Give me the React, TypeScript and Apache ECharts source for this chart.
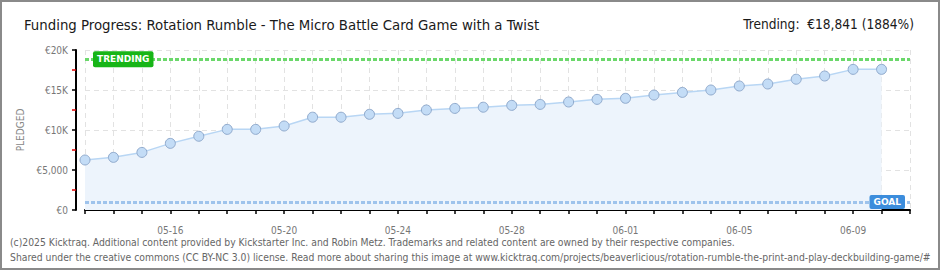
import React, { useEffect, useRef } from "react";
import * as echarts from "echarts";

const titleText = "Funding Progress: Rotation Rumble - The Micro Battle Card Game with a Twist";
const trendingText = "Trending:  €18,841 (1884%)";
const footerLines = [
  "(c)2025 Kicktraq. Additional content provided by Kickstarter Inc. and Robin Metz. Trademarks and related content are owned by their respective companies.",
  "Shared under the creative commons (CC BY-NC 3.0) license. Read more about sharing this image at www.kicktraq.com/projects/beaverlicious/rotation-rumble-the-print-and-play-deckbuilding-game/#",
];
const dates = [
  "05-13", "05-14", "05-15", "05-16", "05-17", "05-18", "05-19", "05-20", "05-21", "05-22",
  "05-23", "05-24", "05-25", "05-26", "05-27", "05-28", "05-29", "05-30", "05-31", "06-01",
  "06-02", "06-03", "06-04", "06-05", "06-06", "06-07", "06-08", "06-09", "06-10", "06-11",
];
const pledged = [
  6250, 6580, 7200, 8330, 9220, 10080, 10080, 10500, 11600, 11600,
  11960, 12080, 12500, 12700, 12850, 13080, 13200, 13500, 13830, 13960,
  14370, 14700, 15000, 15500, 15750, 16350, 16750, 17580, 17580,
];
const trendingValue = 18841;
const goalValue = 1000;
const yTicks = [0, 5000, 10000, 15000, 20000];

const FONT = "'Liberation Sans Narrow', 'DejaVu Sans Condensed', sans-serif";

export default function App() {
  const ref = useRef<HTMLDivElement>(null);
  useEffect(() => {
    if (!ref.current) return;
    const chart = echarts.init(ref.current, null, { renderer: "svg" });
    chart.setOption({
      animation: false,
      backgroundColor: "#ffffff",
      title: [
        {
          text: titleText,
          left: 19,
          top: 12,
          textStyle: { fontFamily: FONT, fontSize: 14.8, fontWeight: "normal", color: "#1a1a1a" },
        },
        {
          text: trendingText,
          right: 21,
          top: 12,
          textStyle: { fontFamily: FONT, fontSize: 13.6, fontWeight: "normal", color: "#1a1a1a" },
        },
      ],
      grid: { left: 85, right: 30, top: 50, bottom: 60 },
      xAxis: {
        type: "category",
        data: dates,
        boundaryGap: false,
        offset: 10,
        axisLine: { lineStyle: { color: "#000", width: 2 } },
        axisTick: { interval: 0, length: 4, lineStyle: { color: "#000", width: 1.5 } },
        axisLabel: {
          interval: (i: number) => (i - 3) % 4 === 0,
          color: "#777",
          fontSize: 10,
          fontFamily: FONT,
          margin: 5,
        },
        splitLine: { show: true, interval: 0, lineStyle: { color: "#e2e2e2", type: [5, 4], width: 1 } },
      },
      yAxis: {
        type: "value",
        min: yTicks[0],
        max: yTicks[yTicks.length - 1],
        interval: 5000,
        offset: 9,
        name: "PLEDGED",
        nameLocation: "middle",
        nameGap: 48,
        nameTextStyle: { color: "#888", fontSize: 10, fontFamily: FONT, fontWeight: "normal" },
        axisLine: { show: true, lineStyle: { color: "#000", width: 2 } },
        axisTick: { show: true, length: 4, lineStyle: { color: "#000", width: 1.5 } },
        minorTick: { show: true, splitNumber: 2, length: 4, lineStyle: { color: "#e00000", width: 1.5 } },
        axisLabel: {
          color: "#777",
          fontSize: 10,
          fontFamily: FONT,
          margin: 8,
          formatter: (v: number) =>
            v >= 10000 ? "€" + v / 1000 + "K" : "€" + v.toLocaleString("en-US"),
        },
        splitLine: { show: true, lineStyle: { color: "#e2e2e2", type: [5, 4], width: 1 } },
      },
      series: [
        {
          type: "line",
          data: pledged,
          symbol: "circle",
          symbolSize: 10,
          lineStyle: { color: "#b8d6f4", width: 1.5 },
          itemStyle: { color: "#c3dcf6", borderColor: "#8fa9cc", borderWidth: 1 },
          areaStyle: { color: "#edf4fc", opacity: 1 },
          z: 3,
          markLine: {
            silent: true,
            symbol: "none",
            label: { show: false },
            data: [
              { yAxis: trendingValue, lineStyle: { color: "#6bd86b", width: 3, type: [4, 2] } },
              { yAxis: goalValue, lineStyle: { color: "#9ec3ec", width: 3, type: [4, 2] } },
            ],
          },
          markPoint: {
            silent: true,
            symbol: "rect",
            symbolSize: 0,
            data: [
              {
                coord: [dates[0], trendingValue],
                label: {
                  show: true,
                  position: "right",
                  distance: 8,
                  formatter: "TRENDING",
                  color: "#fff",
                  fontSize: 9,
                  fontWeight: "bold",
                  fontFamily: "'DejaVu Sans', sans-serif",
                  backgroundColor: "#17b517",
                  borderRadius: 2,
                  padding: [4, 4, 3, 4],
                },
              },
              {
                coord: [dates[dates.length - 1], goalValue],
                label: {
                  show: true,
                  position: "left",
                  distance: 5,
                  formatter: "GOAL",
                  color: "#fff",
                  fontSize: 9,
                  fontWeight: "bold",
                  fontFamily: "'DejaVu Sans', sans-serif",
                  backgroundColor: "#3c8ddc",
                  borderRadius: 2,
                  padding: [3, 4, 2, 4],
                },
              },
            ],
          },
        },
      ],
      graphic: [
        {
          type: "rect",
          shape: { x: 1, y: 1, width: 938, height: 268 },
          style: { fill: "none", stroke: "#8a8a8a", lineWidth: 2 },
          silent: true,
        },
        {
          type: "text",
          left: 10,
          top: 237,
          style: { text: footerLines[0], fill: "#666", fontSize: 10.3, fontFamily: FONT },
        },
        {
          type: "text",
          left: 10,
          top: 252,
          style: { text: footerLines[1], fill: "#666", fontSize: 10.3, fontFamily: FONT },
        },
      ],
    });
    return () => chart.dispose();
  }, []);
  return (
    <div style={{ position: "fixed", left: 0, top: 0, width: 940, height: 270 }}>
      <div ref={ref} style={{ width: 940, height: 270 }} />
    </div>
  );
}
